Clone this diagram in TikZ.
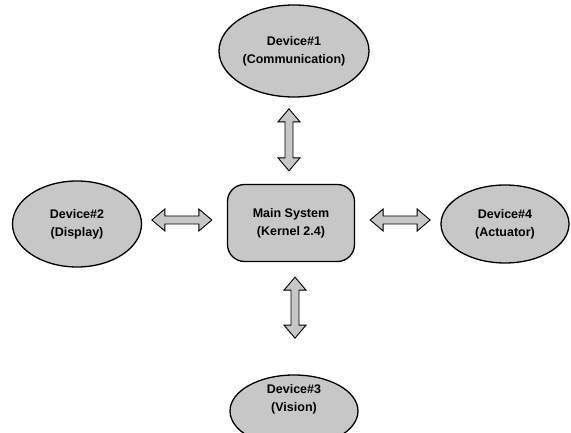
\documentclass[tikz,border=0pt]{standalone}
\usepackage{fontspec}
\setmainfont{Liberation Sans}
\usetikzlibrary{calc,shapes.geometric}
\definecolor{stip}{gray}{0.78}
\tikzset{
  dev/.style={ellipse, draw=black, line width=1.3pt, fill=stip, inner sep=0pt},
  mainbox/.style={rectangle, rounded corners=17pt, draw=black, line width=1.3pt, fill=stip, inner sep=0pt},
  txt/.style={align=center, font=\fontsize{12.5}{18}\selectfont\bfseries},
  barrow/.style={draw=black, line width=0.9pt, fill=stip, line join=miter}
}
\newcommand\blockarr[2]{%
  \path ($(#1)!13pt!(#2)$) coordinate (ba1) ($(#2)!13pt!(#1)$) coordinate (ba2);
  \draw[barrow] (#1) -- ($(ba1)!11pt!90:(#2)$) -- ($(ba1)!4pt!90:(#2)$)
    -- ($(ba2)!4pt!-90:(#1)$) -- ($(ba2)!11pt!-90:(#1)$) -- (#2)
    -- ($(ba2)!11pt!90:(#1)$) -- ($(ba2)!4pt!90:(#1)$)
    -- ($(ba1)!4pt!-90:(#2)$) -- ($(ba1)!11pt!-90:(#2)$) -- cycle;}
\begin{document}
\begin{tikzpicture}[x=1pt,y=1pt]
\useasboundingbox (0,0) rectangle (571,433);
% nodes
\node[mainbox, minimum width=127pt, minimum height=77pt, txt] (main) at (291,210) {Main System\\(Kernel 2.4)};
\node[dev, minimum width=150pt, minimum height=92pt, txt] (dev1) at (294,382) {Device\#1\\(Communication)};
\node[dev, minimum width=129pt, minimum height=86pt, txt] (dev2) at (77,209) {Device\#2\\(Display)};
\node[dev, minimum width=128pt, minimum height=78pt, txt] (dev4) at (505,209) {Device\#4\\(Actuator)};
\node[dev, minimum width=128pt, minimum height=72pt] (dev3) at (294,22) {};
\node[txt] (dev3t) at ($(dev3.center)+(0,12)$) {Device\#3\\(Vision)};
% connector end points
\coordinate (a1) at ($(main.north)+(-2,13)$);
\coordinate (a2) at ($(main.north)+(-2,75)$);
\coordinate (l1) at ($(main.west)+(-15,3)$);
\coordinate (l2) at ($(main.west)+(-75,3)$);
\coordinate (r1) at ($(main.east)+(15,3)$);
\coordinate (r2) at ($(main.east)+(75,3)$);
\coordinate (b1) at ($(main.south)+(4,-15)$);
\coordinate (b2) at ($(main.south)+(4,-76)$);
\blockarr{a1}{a2}
\blockarr{l1}{l2}
\blockarr{r1}{r2}
\blockarr{b1}{b2}
\end{tikzpicture}
\end{document}
